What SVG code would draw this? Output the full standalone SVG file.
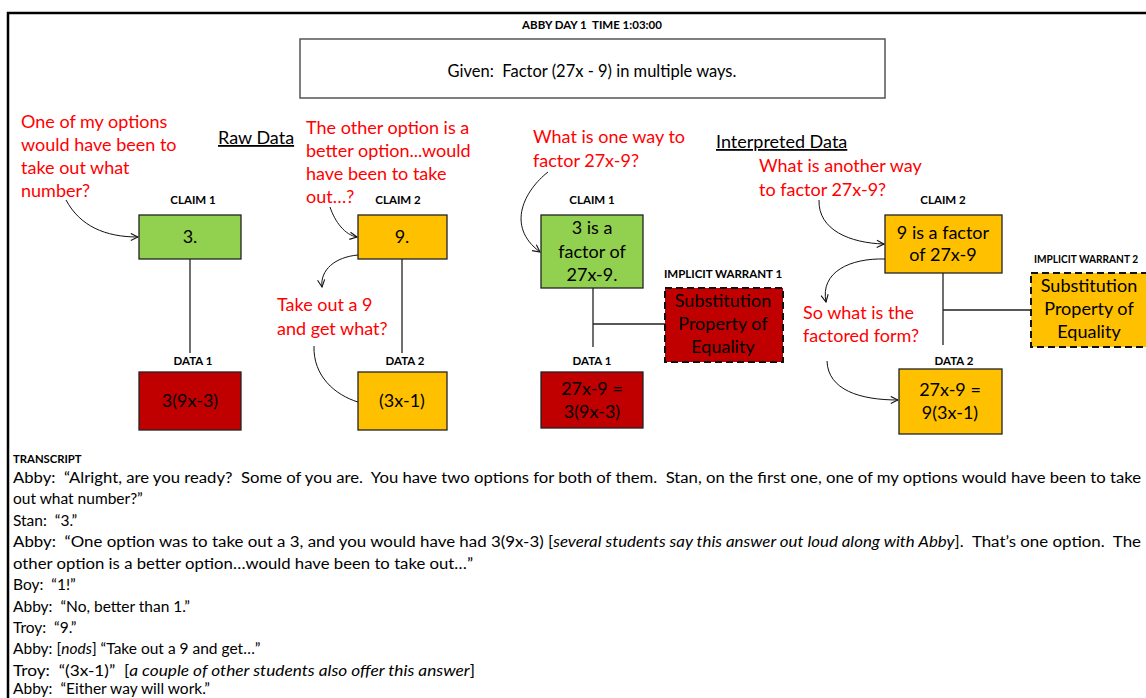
<svg xmlns="http://www.w3.org/2000/svg" width="1146" height="698" viewBox="0 0 1146 698">
  <style>
    text { font-family: Lato, "Liberation Sans", sans-serif; fill: #000; white-space: pre; }
    .lbl { font-size: 11.5px; font-weight: bold; text-anchor: middle; }
    .box { font-size: 18px; text-anchor: middle; }
    .red { font-size: 18px; fill: #FF0000; }
    .hdr { font-size: 18px; text-decoration: underline; }
    .tr { font-size: 15.5px; }
    .it { font-style: italic; }
    .node { stroke: #222; stroke-width: 1.3; }
    .warrant { stroke: #111; stroke-width: 2; stroke-dasharray: 7 4; }
    .green { fill: #92D050; }
    .amber { fill: #FFC000; }
    .crimson { fill: #C00000; }
    .link { stroke: #222; stroke-width: 1.3; fill: none; }
    .curve { stroke: #111; stroke-width: 1; fill: none; }
  </style>
  <defs>
    <marker id="open" viewBox="0 0 10 10" refX="9" refY="5" markerWidth="9" markerHeight="9" markerUnits="userSpaceOnUse" orient="auto">
      <path d="M1,1 L9,5 L1,9" fill="none" stroke="#111" stroke-width="1.2"/>
    </marker>
  </defs>

  <rect width="1146" height="698" fill="#fff"/>
  <!-- page frame -->
  <rect x="8" y="13" width="1160" height="700" fill="none" stroke="#000" stroke-width="2.5"/>

  <g id="header">
    <text class="lbl" x="592" y="29">ABBY DAY 1  TIME 1:03:00</text>
    <rect x="300" y="39" width="585" height="59" fill="#fff" stroke="#555" stroke-width="1.5"/>
    <text x="592" y="77" font-size="16.5" text-anchor="middle">Given:  Factor (27x - 9) in multiple ways.</text>
  </g>

  <g id="section-titles">
    <text class="hdr" x="218" y="144">Raw Data</text>
    <text class="hdr" x="716" y="148">Interpreted Data</text>
  </g>

  <g id="prompts">
    <text class="red" x="21" y="128">One of my options</text>
    <text class="red" x="21" y="151">would have been to</text>
    <text class="red" x="21" y="174">take out what</text>
    <text class="red" x="21" y="197">number?</text>
    <text class="red" x="306" y="134">The other option is a</text>
    <text class="red" x="306" y="157">better option...would</text>
    <text class="red" x="306" y="180">have been to take</text>
    <text class="red" x="306" y="203">out…?</text>
    <text class="red" x="277" y="311">Take out a 9</text>
    <text class="red" x="277" y="335">and get what?</text>
    <text class="red" x="533" y="143">What is one way to</text>
    <text class="red" x="533" y="167">factor 27x-9?</text>
    <text class="red" x="759" y="172">What is another way</text>
    <text class="red" x="759" y="196">to factor 27x-9?</text>
    <text class="red" x="803" y="319">So what is the</text>
    <text class="red" x="803" y="342">factored form?</text>
  </g>

  <g id="connectors">
    <path class="link" d="M190,259 V353"/>
    <path class="link" d="M402,259 V353"/>
    <path class="link" d="M593,288 V347 M593,324 H665"/>
    <path class="link" d="M943,273 V345 M943,310 H1031"/>
    <path class="curve" d="M66,200 C80,226 105,237 138,237" marker-end="url(#open)"/>
    <path class="curve" d="M330,207 C335,222 345,235 357,237" marker-end="url(#open)"/>
    <path class="curve" d="M358,255 C335,257 320,270 322,287" marker-end="url(#open)"/>
    <path class="curve" d="M314,346 C313,376 335,395 358,402"/>
    <path class="curve" d="M548,172 C525,190 505,226 540,252" marker-end="url(#open)"/>
    <path class="curve" d="M819,200 C818,230 850,243 884,244" marker-end="url(#open)"/>
    <path class="curve" d="M885,259 C850,258 820,272 826,302" marker-end="url(#open)"/>
    <path class="curve" d="M827,361 C828,390 860,400 898,400" marker-end="url(#open)"/>
  </g>

  <g id="raw-claim-1">
    <text class="lbl" x="193" y="204">CLAIM 1</text>
    <rect class="node green" x="139" y="215" width="102" height="44"/>
    <text class="box" x="190" y="243">3.</text>
  </g>
  <g id="raw-data-1">
    <text class="lbl" x="193" y="365">DATA 1</text>
    <rect class="node crimson" x="139" y="372" width="102" height="58"/>
    <text class="box" x="190" y="407">3(9x-3)</text>
  </g>
  <g id="raw-claim-2">
    <text class="lbl" x="398" y="204">CLAIM 2</text>
    <rect class="node amber" x="358" y="215" width="89" height="44"/>
    <text class="box" x="402" y="243">9.</text>
  </g>
  <g id="raw-data-2">
    <text class="lbl" x="405" y="365">DATA 2</text>
    <rect class="node amber" x="358" y="372" width="89" height="58"/>
    <text class="box" x="402" y="407">(3x-1)</text>
  </g>

  <g id="claim-1">
    <text class="lbl" x="592" y="204">CLAIM 1</text>
    <rect class="node green" x="541" y="215" width="102" height="73"/>
    <text class="box" x="592" y="234">3 is a</text>
    <text class="box" x="592" y="258">factor of</text>
    <text class="box" x="592" y="281">27x-9.</text>
  </g>
  <g id="warrant-1">
    <text class="lbl" x="723" y="278">IMPLICIT WARRANT 1</text>
    <rect class="warrant crimson" x="665" y="288" width="118" height="74"/>
    <text class="box" x="723" y="307">Substitution</text>
    <text class="box" x="723" y="330">Property of</text>
    <text class="box" x="723" y="353">Equality</text>
  </g>
  <g id="data-1">
    <text class="lbl" x="592" y="365">DATA 1</text>
    <rect class="node crimson" x="541" y="372" width="102" height="56"/>
    <text class="box" x="592" y="395">27x-9 =</text>
    <text class="box" x="592" y="418">3(9x-3)</text>
  </g>

  <g id="claim-2">
    <text class="lbl" x="943" y="204">CLAIM 2</text>
    <rect class="node amber" x="885" y="215" width="117" height="58"/>
    <text class="box" x="943" y="239">9 is a factor</text>
    <text class="box" x="943" y="261">of 27x-9</text>
  </g>
  <g id="warrant-2">
    <text x="1034" y="263" font-size="11" font-weight="bold" textLength="104" lengthAdjust="spacingAndGlyphs">IMPLICIT WARRANT 2</text>
    <rect class="warrant amber" x="1031" y="273" width="118" height="74"/>
    <text class="box" x="1089" y="292">Substitution</text>
    <text class="box" x="1089" y="315">Property of</text>
    <text class="box" x="1089" y="338">Equality</text>
  </g>
  <g id="data-2">
    <text class="lbl" x="954" y="365">DATA 2</text>
    <rect class="node amber" x="899" y="369" width="103" height="65"/>
    <text class="box" x="950" y="396">27x-9 =</text>
    <text class="box" x="950" y="419">9(3x-1)</text>
  </g>

  <g id="transcript">
    <text x="13" y="463" font-size="11.3" font-weight="bold">TRANSCRIPT</text>
    <text class="tr" x="13" y="483" textLength="1128" lengthAdjust="spacingAndGlyphs">Abby:  “Alright, are you ready?  Some of you are.  You have two options for both of them.  Stan, on the first one, one of my options would have been to take</text>
    <text class="tr" x="13" y="504">out what number?”</text>
    <text class="tr" x="13" y="526">Stan:  “3.”</text>
    <text class="tr" x="13" y="547" textLength="1128" lengthAdjust="spacingAndGlyphs">Abby:  “One option was to take out a 3, and you would have had 3(9x-3) [<tspan class="it">several students say this answer out loud along with Abby</tspan>].  That’s one option.  The</text>
    <text class="tr" x="13" y="569" textLength="460" lengthAdjust="spacingAndGlyphs">other option is a better option…would have been to take out…”</text>
    <text class="tr" x="13" y="590">Boy:  “1!”</text>
    <text class="tr" x="13" y="612">Abby:  “No, better than 1.”</text>
    <text class="tr" x="13" y="633">Troy:  “9.”</text>
    <text class="tr" x="13" y="654">Abby: [<tspan class="it">nods</tspan>] “Take out a 9 and get…”</text>
    <text class="tr" x="13" y="676" textLength="462" lengthAdjust="spacingAndGlyphs">Troy:  “(3x-1)”  [<tspan class="it">a couple of other students also offer this answer</tspan>]</text>
    <text class="tr" x="13" y="694">Abby:  “Either way will work.”</text>
  </g>
</svg>
